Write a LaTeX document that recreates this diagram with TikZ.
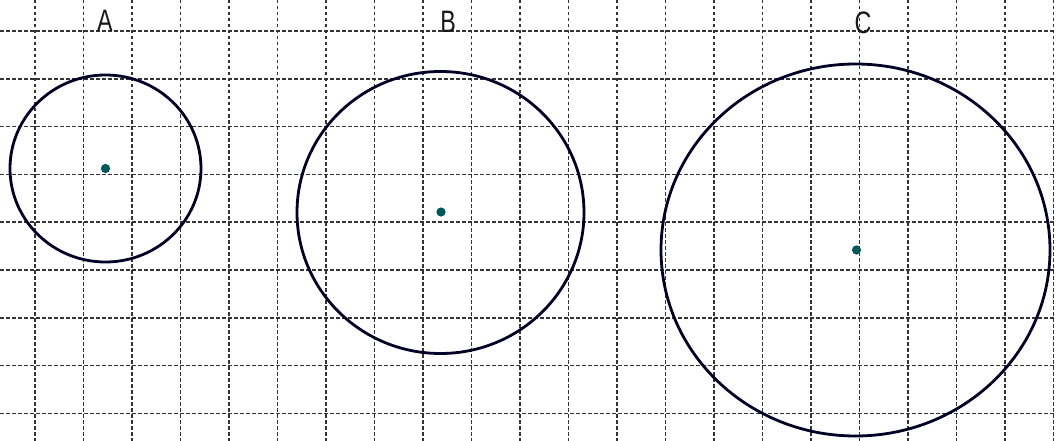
\documentclass[tikz,border=0pt]{standalone}
\usepackage{fontspec}
\setsansfont{Liberation Sans}
\begin{document}
\begin{tikzpicture}[x=1pt,y=-1pt,
  gridline/.style={draw=black!80, line width=1.5pt, dash pattern=on 3.5pt off 2.5pt},
  ring/.style={draw=black!85!blue, line width=2.8pt},
  centerdot/.style={fill=teal!70!black},
  lbl/.style={font=\sffamily\fontsize{31}{31}\selectfont, xscale=0.75, text=black!90, inner sep=0pt}]
\useasboundingbox (0,0) rectangle (1056,441);
\fill[white] (0,0) rectangle (1056,441);
% grid
\foreach \i in {0,...,21} {
  \draw[gridline] ({35+48.5*\i},0) -- ({35+48.5*\i},441);
}
\foreach \j in {0,...,8} {
  \draw[gridline] (0,{31+47.8*\j}) -- (1056,{31+47.8*\j});
}
% centers
\coordinate (cA) at (105.5,168.5);
\coordinate (cB) at (440.5,212.5);
\coordinate (cC) at (855.5,250);
% circles
\draw[ring] (cA) ellipse [x radius=95.5, y radius=93.5];
\draw[ring] (cB) ellipse [x radius=143.5, y radius=141];
\draw[ring] (cC) ellipse [x radius=194.5, y radius=186];
% dots
\fill[centerdot] (cA) circle [radius=4.6];
\fill[centerdot] (441,212) circle [radius=4.6];
\fill[centerdot] (856.5,250) circle [radius=4.6];
% labels
\node[lbl] (lA) at (105,21) {A};
\node[lbl] (lB) at (448,22) {B};
\node[lbl] (lC) at (863,23) {C};
\end{tikzpicture}
\end{document}
